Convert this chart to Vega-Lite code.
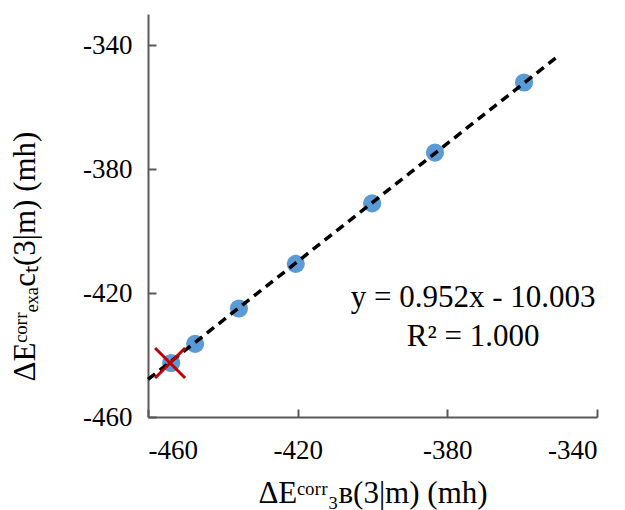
{
  "$schema": "https://vega.github.io/schema/vega-lite/v6.json",
  "autosize": "none",
  "width": 449,
  "height": 403,
  "padding": {"left": 148, "top": 14, "right": 28, "bottom": 93},
  "background": "white",
  "config": {"view": {"stroke": null}, "font": "Liberation Serif", "axis": {"labelFont": "Liberation Serif", "titleFont": "Liberation Serif"}},
  "datasets": {
    "pts": [
      {"x": -453.8, "y": -442.6},
      {"x": -447.4, "y": -436.4},
      {"x": -435.7, "y": -425.0},
      {"x": -420.5, "y": -410.6},
      {"x": -400.1, "y": -391.1},
      {"x": -383.3, "y": -374.7},
      {"x": -359.5, "y": -352.1}
    ],
    "fit": [
      {"x": -460, "y": -447.9},
      {"x": -350.4, "y": -343.6}
    ],
    "cross": [
      {"x": -454.1, "y": -442.6}
    ],
    "note": [
      {"x": -373.1, "y": -421.6, "label": ["y = 0.952x - 10.003", "R² = 1.000"]}
    ]
  },
  "encoding": {
    "x": {
      "field": "x", "type": "quantitative",
      "scale": {"domain": [-460, -340], "nice": false, "zero": false},
      "axis": {
        "values": [-460, -420, -380, -340],
        "labelExpr": "replace(datum.label, '−', '-')",
        "grid": false,
        "tickSize": -8, "tickWidth": 2, "tickColor": "#595959",
        "domainColor": "#595959", "domainWidth": 2,
        "labelFont": "Liberation Serif", "labelFontSize": 27, "labelColor": "#000000",
        "labelPadding": 28,
        "title": "ΔEᶜᵒʳʳ₃ʙ(3|m) (mh)",
        "titleFont": "Liberation Serif", "titleFontSize": 31, "titleFontWeight": "normal", "titleColor": "#000000",
        "titleY": 61, "titleBaseline": "top"
      }
    },
    "y": {
      "field": "y", "type": "quantitative",
      "scale": {"domain": [-460, -330], "nice": false, "zero": false},
      "axis": {
        "values": [-460, -420, -380, -340],
        "labelExpr": "replace(datum.label, '−', '-')",
        "grid": false,
        "tickSize": -8, "tickWidth": 2, "tickColor": "#595959",
        "domainColor": "#595959", "domainWidth": 2,
        "labelFont": "Liberation Serif", "labelFontSize": 27, "labelColor": "#000000",
        "labelPadding": 24,
        "title": "ΔEᶜᵒʳʳₑₓₐcₜ(3|m) (mh)",
        "titleFont": "Liberation Serif", "titleFontSize": 31, "titleFontWeight": "normal", "titleColor": "#000000",
        "titleX": -107, "titleY": 242
      }
    }
  },
  "layer": [
    {
      "data": {"name": "pts"},
      "mark": {"type": "circle", "size": 330, "color": "#5B9BD5", "opacity": 1}
    },
    {
      "data": {"name": "fit"},
      "mark": {"type": "line", "color": "#000000", "strokeWidth": 3.5, "strokeDash": [9, 6]}
    },
    {
      "data": {"name": "cross"},
      "mark": {"type": "point", "shape": "M-1,-1L1,1M-1,1L1,-1", "size": 900, "filled": false, "stroke": "#C00000", "strokeWidth": 3, "opacity": 1}
    },
    {
      "data": {"name": "note"},
      "mark": {"type": "text", "font": "Liberation Serif", "fontSize": 31, "color": "#000000", "align": "center", "baseline": "middle", "lineHeight": 39},
      "encoding": {"text": {"field": "label"}}
    }
  ]
}
